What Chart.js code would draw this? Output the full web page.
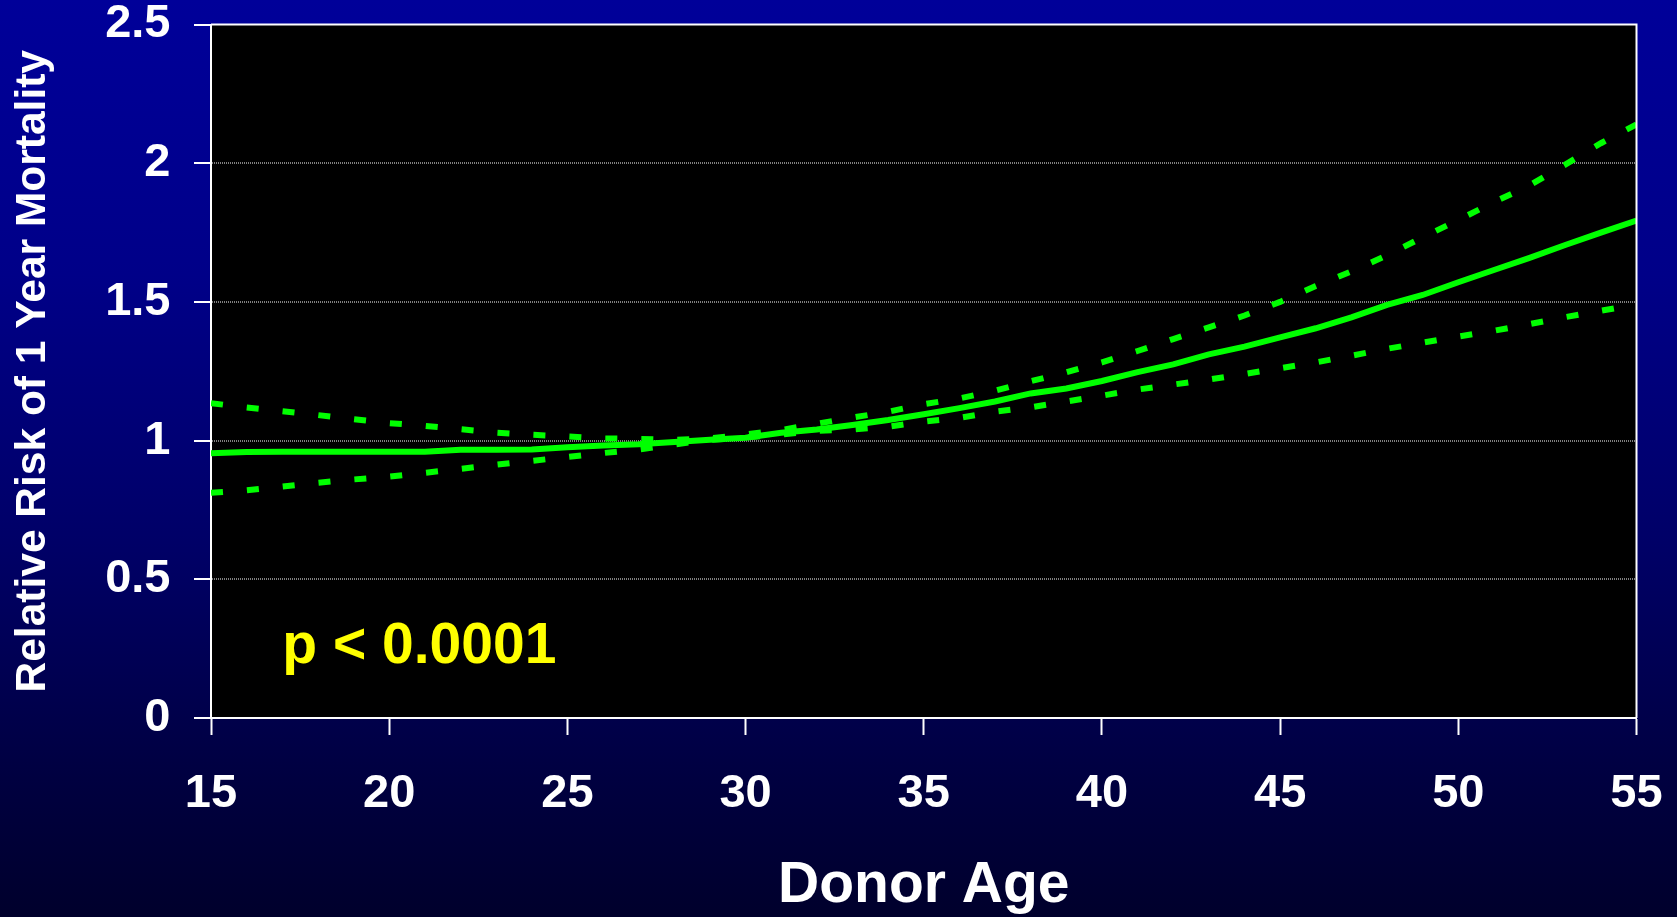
<!DOCTYPE html>
<html>
<head>
<meta charset="utf-8">
<title>Donor Age vs Relative Risk of 1 Year Mortality</title>
<script src="https://cdn.jsdelivr.net/npm/chart.js@4.4.0/dist/chart.umd.min.js"></script>
<style>
    html, body {
        margin: 0;
        padding: 0;
        width: 1677px;
        height: 917px;
        overflow: hidden;
        background: linear-gradient(to bottom, #000099 0%, #000088 30%, #000066 60%, #000040 85%, #00002c 100%);
    }
    #wrap {
        width: 1677px;
        height: 917px;
    }
</style>
</head>
<body>
<div id="wrap"><canvas id="riskChart" width="1677" height="917"></canvas></div>
<script>
// donor age, one point per year
const ages = [15, 16, 17, 18, 19, 20, 21, 22, 23, 24, 25, 26, 27, 28, 29, 30, 31, 32, 33, 34, 35,
    36, 37, 38, 39, 40, 41, 42, 43, 44, 45, 46, 47, 48, 49, 50, 51, 52, 53, 54, 55];

// relative risk estimate (solid line)
const riskEstimate = [0.954, 0.959, 0.960, 0.960, 0.960, 0.960, 0.960, 0.967, 0.967, 0.968, 0.976,
    0.982, 0.987, 0.995, 1.003, 1.010, 1.028, 1.040, 1.056, 1.074, 1.095,
    1.117, 1.141, 1.170, 1.188, 1.215, 1.247, 1.275, 1.311, 1.339, 1.372,
    1.405, 1.444, 1.489, 1.525, 1.571, 1.615, 1.659, 1.705, 1.750, 1.793];

// upper confidence bound (dashed)
const riskUpper = [1.135, 1.119, 1.106, 1.092, 1.077, 1.063, 1.053, 1.041, 1.029, 1.021, 1.015,
    1.008, 1.006, 1.003, 1.008, 1.022, 1.038, 1.061, 1.083, 1.104, 1.131,
    1.152, 1.180, 1.214, 1.246, 1.282, 1.323, 1.366, 1.408, 1.451, 1.500,
    1.557, 1.610, 1.668, 1.733, 1.795, 1.860, 1.920, 1.995, 2.072, 2.140];

// lower confidence bound (dashed)
const riskLower = [0.812, 0.821, 0.834, 0.848, 0.860, 0.870, 0.884, 0.898, 0.913, 0.927, 0.941,
    0.955, 0.968, 0.986, 1.003, 1.011, 1.022, 1.035, 1.040, 1.050, 1.068,
    1.082, 1.104, 1.120, 1.141, 1.162, 1.184, 1.202, 1.220, 1.240, 1.261,
    1.282, 1.306, 1.331, 1.353, 1.375, 1.396, 1.420, 1.445, 1.468, 1.490];

const xTicks = [15, 20, 25, 30, 35, 40, 45, 50, 55];
const yTicks = [0, 0.5, 1, 1.5, 2, 2.5];
const yTickLabels = ['0', '0.5', '1', '1.5', '2', '2.5'];

const pValueText = 'p < 0.0001';

const FONT = 'Arial, "Liberation Sans", Helvetica, sans-serif';
const GREEN = '#00ff00';

function toPoints(values) {
    return ages.map((age, i) => ({ x: age, y: values[i] }));
}

// black plot area plus white frame on top/right
const plotFrame = {
    id: 'plotFrame',
    beforeDraw(chart) {
        const { ctx, chartArea } = chart;
        ctx.save();
        ctx.fillStyle = '#000000';
        ctx.fillRect(chartArea.left, chartArea.top, chartArea.right - chartArea.left, chartArea.bottom - chartArea.top);
        ctx.restore();
    },
    afterDraw(chart) {
        const { ctx, chartArea } = chart;
        ctx.save();
        ctx.strokeStyle = '#ffffff';
        ctx.lineWidth = 2;
        ctx.beginPath();
        ctx.moveTo(chartArea.left, chartArea.top);
        ctx.lineTo(chartArea.right, chartArea.top);
        ctx.lineTo(chartArea.right, chartArea.bottom);
        ctx.stroke();
        ctx.restore();
    }
};

// yellow p-value note inside the plot
const pValueNote = {
    id: 'pValueNote',
    afterDatasetsDraw(chart) {
        const { ctx, scales } = chart;
        ctx.save();
        ctx.font = 'bold 57px ' + FONT;
        ctx.fillStyle = '#ffff00';
        ctx.textAlign = 'left';
        ctx.textBaseline = 'alphabetic';
        ctx.fillText(pValueText, scales.x.getPixelForValue(17), scales.y.getPixelForValue(0.2));
        ctx.restore();
    }
};

const ctx = document.getElementById('riskChart');

new Chart(ctx, {
    type: 'line',
    data: {
        datasets: [
            {
                label: 'Upper',
                data: toPoints(riskUpper),
                borderColor: GREEN,
                borderWidth: 6,
                borderDash: [12, 24],
                borderCapStyle: 'butt',
                pointRadius: 0,
                tension: 0,
                fill: false
            },
            {
                label: 'Lower',
                data: toPoints(riskLower),
                borderColor: GREEN,
                borderWidth: 6,
                borderDash: [12, 24],
                borderCapStyle: 'butt',
                pointRadius: 0,
                tension: 0,
                fill: false
            },
            {
                label: 'Relative risk',
                data: toPoints(riskEstimate),
                borderColor: GREEN,
                borderWidth: 6,
                pointRadius: 0,
                tension: 0,
                fill: false
            }
        ]
    },
    options: {
        responsive: false,
        animation: false,
        layout: {
            padding: { left: 0, top: 24.5, right: 40.5, bottom: 0 }
        },
        plugins: {
            legend: { display: false },
            tooltip: { enabled: false },
            title: { display: false }
        },
        scales: {
            x: {
                type: 'linear',
                min: 15,
                max: 55,
                afterBuildTicks: (scale) => {
                    scale.ticks = xTicks.map(v => ({ value: v }));
                },
                afterFit: (scale) => {
                    scale.height = 199;
                    scale.paddingLeft = 0;
                    scale.paddingRight = 0;
                },
                border: { display: true, color: '#ffffff', width: 2 },
                grid: {
                    drawOnChartArea: false,
                    drawTicks: true,
                    tickLength: 17,
                    tickColor: '#ffffff',
                    tickWidth: 2
                },
                ticks: {
                    color: '#ffffff',
                    padding: 31,
                    maxRotation: 0,
                    autoSkip: false,
                    callback: (value) => String(value),
                    font: { family: FONT, size: 47, weight: 'bold', lineHeight: 1.2 }
                },
                title: {
                    display: true,
                    text: 'Donor Age',
                    color: '#ffffff',
                    padding: { top: 0, bottom: 2.3 },
                    font: { family: FONT, size: 57, weight: 'bold', lineHeight: 1 }
                }
            },
            y: {
                type: 'linear',
                min: 0,
                max: 2.5,
                afterBuildTicks: (scale) => {
                    scale.ticks = yTicks.map(v => ({ value: v }));
                },
                afterFit: (scale) => {
                    scale.width = 211;
                    scale.paddingTop = 0;
                    scale.paddingBottom = 0;
                },
                border: { display: true, color: '#ffffff', width: 2, dash: [1, 1] },
                grid: {
                    drawOnChartArea: true,
                    drawTicks: true,
                    tickLength: 17,
                    tickColor: '#ffffff',
                    tickWidth: 2,
                    tickBorderDash: [],
                    lineWidth: 2,
                    color: (c) => {
                        const v = c.tick ? c.tick.value : null;
                        return (v === 0 || v === 2.5) ? 'rgba(0,0,0,0)' : '#808080';
                    }
                },
                ticks: {
                    color: '#ffffff',
                    padding: 23.5,
                    autoSkip: false,
                    callback: (value) => {
                        const i = yTicks.indexOf(value);
                        return i >= 0 ? yTickLabels[i] : String(value);
                    },
                    font: { family: FONT, size: 47, weight: 'bold', lineHeight: 1.2 }
                },
                title: {
                    display: true,
                    text: 'Relative Risk of 1 Year Mortality',
                    color: '#ffffff',
                    padding: { top: 12, bottom: 0 },
                    font: { family: FONT, size: 42.5, weight: 'bold', lineHeight: 1 }
                }
            }
        }
    },
    plugins: [plotFrame, pValueNote]
});
</script>
</body>
</html>
